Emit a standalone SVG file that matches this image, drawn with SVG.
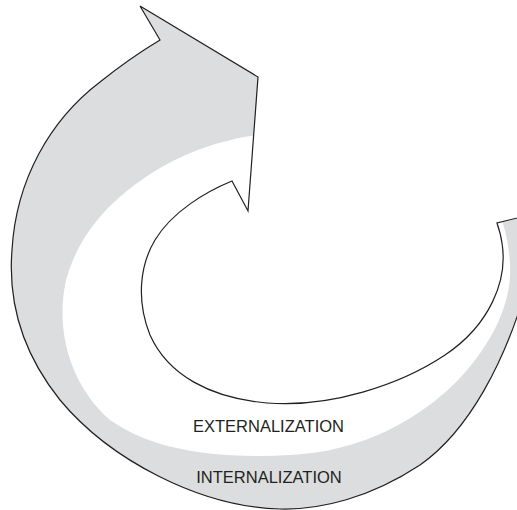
<svg xmlns="http://www.w3.org/2000/svg" width="517" height="510" viewBox="0 0 517 510">
  <style>
    .band { fill: #dcdddf; }
    .inner { fill: #ffffff; }
    .outline { fill: none; stroke: #231f20; stroke-width: 1.2; stroke-linejoin: miter; }
    .label { font-family: "Liberation Sans", Arial, sans-serif; font-size: 16.5px; fill: #231f20; text-anchor: middle; }
  </style>
  <defs>
    <path id="arrowShape" d="M140,6 L258,77 L248,211 L232,181
      C205,192 172,212 155,240 C140,265 136,300 150,335 C168,375 210,398 267,403
      C330,408 400,385 445,355 C490,325 508,280 502,243 C501,236 499,229 497,223
      L525,216 L525,292
      C505,360 470,430 420,465 C370,498 320,510 280,509 C200,507 110,460 60,400
      C20,350 8,300 12,250 C16,180 50,120 100,82 C120,66 140,52 160,40 Z"/>
    <clipPath id="arrowClip">
      <use href="#arrowShape"/>
    </clipPath>
  </defs>
  <g id="cycle-arrow">
    <use href="#arrowShape" class="band"/>
    <path class="inner" clip-path="url(#arrowClip)" d="M268,134 C240,136 200,145 160,168 C115,195 80,230 66,280 C55,330 70,385 110,420 C160,455 230,458 290,455 C360,452 420,420 460,378 C495,340 512,300 510,265 C509,245 506,232 500,215 Z"/>
    <use href="#arrowShape" class="outline"/>
  </g>
  <g id="externalization">
    <text class="label" x="268.5" y="432">EXTERNALIZATION</text>
  </g>
  <g id="internalization">
    <text class="label" x="269" y="483">INTERNALIZATION</text>
  </g>
</svg>
